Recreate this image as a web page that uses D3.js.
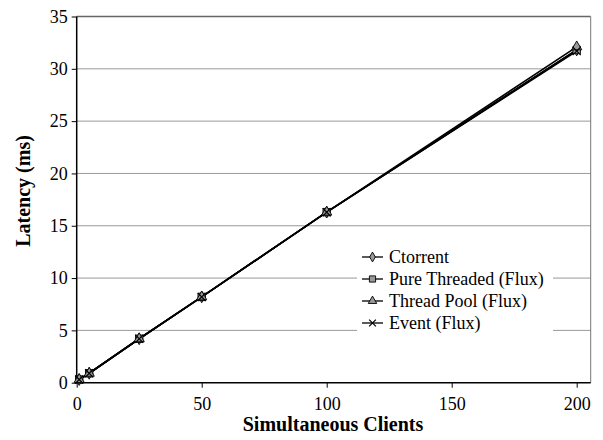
<!DOCTYPE html>
<html><head><meta charset="utf-8">
<script src="https://cdn.jsdelivr.net/npm/d3@7"></script>
<style>body{margin:0;background:#fff}svg{display:block}</style>
</head><body>
<script>
const clients = [1, 5, 25, 50, 100, 200];
const ctorrent = [0.3, 0.9, 4.2, 8.2, 16.3, 31.8];
const pureThreaded = [0.3, 0.9, 4.2, 8.2, 16.3, 31.8];
const threadPool = [0.3, 0.9, 4.2, 8.2, 16.3, 32.1];
const eventFlux = [0.3, 0.9, 4.2, 8.2, 16.3, 31.7];
const seriesNames = ["Ctorrent", "Pure Threaded (Flux)", "Thread Pool (Flux)", "Event (Flux)"];
const seriesSymbols = ["diamond", "square", "triangle", "cross"];
const xTicks = [0, 50, 100, 150, 200];
const yTicks = [0, 5, 10, 15, 20, 25, 30, 35];

const W = 603, H = 440;
const m = {l: 76.7, r: 12.3, t: 16.5, b: 57.3};
const FONT = "serif";
const svg = d3.select("body").append("svg").attr("width", W).attr("height", H).attr("font-family", FONT);

const x = d3.scaleLinear().domain([0, 205.6]).range([m.l, W - m.r]);
const y = d3.scaleLinear().domain([0, 35]).range([H - m.b, m.t]);

// gridlines
svg.append("g").selectAll("line").data(yTicks.filter(d => d > 0)).join("line")
  .attr("x1", m.l).attr("x2", W - m.r).attr("y1", d => y(d)).attr("y2", d => y(d))
  .attr("stroke", d => d === 35 ? "#666" : "#999").attr("stroke-width", d => d === 35 ? 1.5 : 1);
// right border
svg.append("line").attr("x1", W - m.r).attr("x2", W - m.r).attr("y1", m.t).attr("y2", H - m.b)
  .attr("stroke", "#777").attr("stroke-width", 1);

// axes
const xAxis = svg.append("g").attr("transform", `translate(0,${H - m.b})`)
  .call(d3.axisBottom(x).tickValues(xTicks).tickSize(5).tickPadding(10).tickFormat(d3.format("d")));
const yAxis = svg.append("g").attr("transform", `translate(${m.l},0)`)
  .call(d3.axisLeft(y).tickValues(yTicks).tickSize(5).tickPadding(4).tickFormat(d3.format("d")));
[xAxis, yAxis].forEach(a => {
  a.attr("font-family", FONT).attr("font-size", 18);
  a.select(".domain").attr("stroke", "#000").attr("stroke-width", 1.5);
  a.selectAll(".tick line").attr("stroke", "#000");
  a.selectAll("text").attr("font-family", FONT).attr("font-size", 18).attr("fill", "#000");
});
xAxis.select(".domain").attr("d", `M${m.l},0H${W - m.r}`);
yAxis.select(".domain").attr("d", `M0,${m.t}V${H - m.b}`);

// series
const allSeries = [ctorrent, pureThreaded, threadPool, eventFlux];
const line = d3.line().x((d, i) => x(clients[i])).y(d => y(d));
const symType = {diamond: d3.symbolDiamond, square: d3.symbolSquare, triangle: d3.symbolTriangle, cross: d3.symbolTimes};
const symSize = {diamond: 40, square: 55, triangle: 45, cross: 45};

function drawSym(g, name, cx, cy, scale) {
  const s = scale || 1;
  const p = g.append("path").attr("d", d3.symbol(symType[name], symSize[name] * s)())
    .attr("transform", `translate(${cx},${cy})`);
  if (name === "cross") p.attr("fill", "none").attr("stroke", "#000").attr("stroke-width", 1.2);
  else p.attr("fill", "#999").attr("stroke", "#000").attr("stroke-width", 0.9);
}

allSeries.forEach((vals) => {
  svg.append("path").datum(vals).attr("d", line).attr("fill", "none")
    .attr("stroke", "#000").attr("stroke-width", 1.6);
});
allSeries.forEach((vals, si) => {
  const g = svg.append("g");
  vals.forEach((v, i) => drawSym(g, seriesSymbols[si], x(clients[i]), y(v)));
});

// legend
const lg = svg.append("g");
lg.append("rect").attr("x", 357).attr("y", 245).attr("width", 196).attr("height", 90).attr("fill", "#fff");
seriesNames.forEach((n, i) => {
  const cy = 257 + i * 22;
  lg.append("line").attr("x1", 362).attr("x2", 383).attr("y1", cy).attr("y2", cy)
    .attr("stroke", "#000").attr("stroke-width", 1.3);
  drawSym(lg, seriesSymbols[i], 372.5, cy, 0.7);
  lg.append("text").attr("x", 389).attr("y", cy + 6).attr("font-family", FONT)
    .attr("font-size", 18).attr("fill", "#000").text(n);
});

// axis titles
svg.append("text").attr("x", 333).attr("y", 431).attr("text-anchor", "middle")
  .attr("font-family", FONT).attr("font-size", 20).attr("font-weight", "bold").text("Simultaneous Clients");
svg.append("text").attr("transform", "translate(30,191) rotate(-90)").attr("text-anchor", "middle")
  .attr("font-family", FONT).attr("font-size", 20).attr("font-weight", "bold").text("Latency (ms)");
</script>
</body></html>
